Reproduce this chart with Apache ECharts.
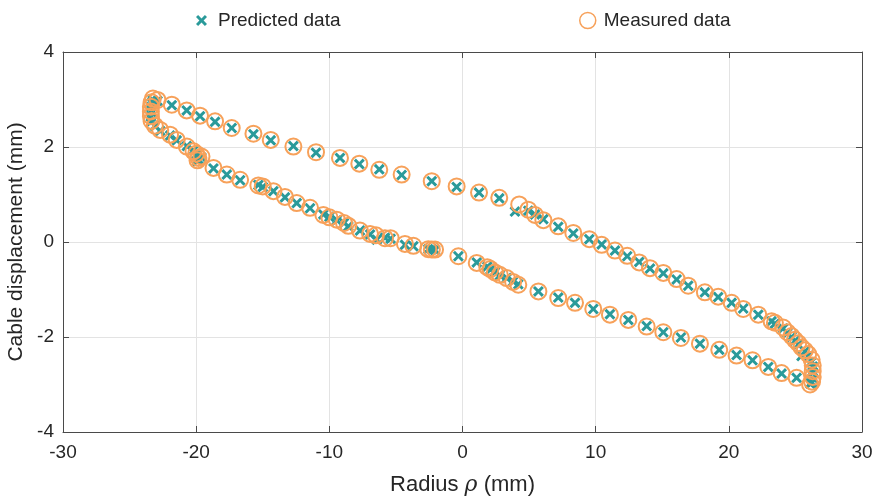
<!DOCTYPE html>
<html>
<head>
<meta charset="utf-8">
<script src="https://cdn.jsdelivr.net/npm/echarts@6/dist/echarts.min.js"></script>
<style>html,body{margin:0;padding:0;background:#fff}#c{width:880px;height:500px}</style>
</head>
<body>
<div id="c"></div>
<script>
// Measured data (radius mm, displacement mm)
var measuredX = [
  -23.25,-22.9,-21.83,-20.71,-19.71,-18.58,-17.33,-15.7,-14.4,-12.7,-11.0,-9.2,-7.75,-6.25,-4.57,-2.31,-0.44,1.24,2.76,4.26,4.94,5.44,6.07,7.19,8.32,9.52,10.45,11.45,12.37,13.27,14.08,15.08,16.08,16.95,18.2,19.2,20.21,21.08,22.21,23.21,23.46,24.08,24.4,24.71,24.96,25.21,25.46,25.71,25.96,26.22,26.3,26.3,26.3,26.25,26.1,
  25.09,23.96,22.96,21.78,20.58,19.28,17.83,16.4,15.08,13.83,12.45,11.07,9.82,8.45,7.19,5.7,4.19,3.8,3.32,2.8,2.44,2.1,1.86,1.07,-0.31,-2.06,-2.3,-2.57,-3.69,-4.32,-5.4,-5.82,-6.5,-6.94,-7.7,-8.57,-8.9,-9.44,-10.0,-10.45,-11.45,-12.45,-13.33,-14.2,-15.0,-15.33,-16.7,-17.7,-18.7,-19.6,-19.83,-19.9,-20.0,-20.2,-20.7,-21.46,-21.96,-22.7,-23.1,-23.35,-23.4,-23.4,-23.4,-23.35
];
var measuredY = [
  3.02,2.99,2.89,2.77,2.66,2.54,2.40,2.28,2.15,2.01,1.89,1.77,1.65,1.52,1.42,1.28,1.17,1.04,0.93,0.79,0.68,0.57,0.46,0.33,0.19,0.06,-0.06,-0.18,-0.29,-0.43,-0.55,-0.65,-0.78,-0.92,-1.06,-1.15,-1.28,-1.41,-1.53,-1.67,-1.70,-1.80,-1.90,-1.98,-2.06,-2.13,-2.22,-2.28,-2.36,-2.48,-2.60,-2.72,-2.84,-2.94,-3.00,
  -2.86,-2.76,-2.63,-2.49,-2.39,-2.27,-2.14,-2.02,-1.90,-1.78,-1.64,-1.53,-1.41,-1.28,-1.18,-1.04,-0.90,-0.84,-0.76,-0.69,-0.64,-0.57,-0.53,-0.44,-0.30,-0.16,-0.16,-0.15,-0.08,-0.04,0.08,0.08,0.14,0.17,0.24,0.34,0.40,0.47,0.52,0.57,0.72,0.82,0.95,1.07,1.17,1.19,1.31,1.42,1.56,1.80,1.77,1.72,1.86,1.91,2.01,2.15,2.26,2.36,2.45,2.55,2.65,2.75,2.85,2.94
];
// Predicted data
var predictedX = [
  -23.25,-22.9,-21.83,-20.71,-19.71,-18.58,-17.33,-15.7,-14.4,-12.7,-11.0,-9.2,-7.75,-6.25,-4.57,-2.31,-0.44,1.24,2.76,3.94,4.94,5.44,6.07,7.19,8.32,9.52,10.45,11.45,12.37,13.27,14.08,15.08,16.08,16.95,18.2,19.2,20.21,21.08,22.21,23.21,23.46,24.08,24.4,24.71,24.96,25.21,25.46,25.71,25.96,26.22,26.3,26.3,26.3,26.25,26.1,
  25.09,23.96,22.96,21.78,20.58,19.28,17.83,16.4,15.08,13.83,12.45,11.07,9.82,8.45,7.19,5.7,4.19,3.8,3.32,2.8,2.44,2.1,1.86,1.07,-0.31,-2.06,-2.3,-2.57,-3.69,-4.32,-5.4,-5.82,-6.44,-6.94,-7.7,-8.57,-8.9,-9.44,-10.0,-10.45,-11.45,-12.45,-13.33,-14.2,-15.0,-15.33,-16.7,-17.7,-18.7,-19.6,-19.83,-19.9,-20.0,-20.2,-20.7,-21.46,-21.96,-22.7,-23.1,-23.35,-23.4,-23.4,-23.4,-23.35
];
var predictedY = [
  2.98,2.97,2.88,2.77,2.65,2.53,2.40,2.27,2.14,2.02,1.88,1.77,1.64,1.53,1.41,1.28,1.16,1.04,0.92,0.64,0.66,0.58,0.48,0.32,0.18,0.06,-0.05,-0.18,-0.30,-0.42,-0.56,-0.66,-0.79,-0.92,-1.06,-1.16,-1.28,-1.40,-1.53,-1.67,-1.72,-1.82,-1.92,-2.00,-2.08,-2.16,-2.40,-2.30,-2.40,-2.52,-2.62,-2.74,-2.86,-2.96,-2.98,
  -2.86,-2.77,-2.63,-2.49,-2.38,-2.27,-2.14,-2.01,-1.90,-1.77,-1.64,-1.52,-1.41,-1.28,-1.17,-1.04,-0.89,-0.83,-0.76,-0.70,-0.63,-0.58,-0.52,-0.43,-0.30,-0.17,-0.15,-0.15,-0.09,-0.06,0.07,0.09,0.05,0.16,0.24,0.33,0.40,0.46,0.53,0.58,0.71,0.82,0.94,1.07,1.16,1.20,1.30,1.42,1.55,1.78,1.74,1.70,1.84,1.93,2.02,2.14,2.24,2.34,2.44,2.54,2.64,2.74,2.84,2.93
];
var xTicks = {min: -30, max: 30, interval: 10};
var yTicks = {min: -4, max: 4, interval: 2};

var TEAL = '#2a9a9a';
var ORANGE = '#f7a15a';
var CROSS = 'path://M1.9,0 L5,3.1 L8.1,0 L10,1.9 L6.9,5 L10,8.1 L8.1,10 L5,6.9 L1.9,10 L0,8.1 L3.1,5 L0,1.9 Z';

function pairs(xs, ys){ var o=[]; for(var i=0;i<xs.length;i++){o.push([xs[i], ys[i]]);} return o; }

var axisColor = '#4a4a4a';
var textColor = '#262626';
var FONT = 'Liberation Sans, Arial, sans-serif';

function xAx(pos, labels){
  return {
    type:'value', position: pos, min:xTicks.min, max:xTicks.max, interval:xTicks.interval,
    axisLine:{show:true, onZero:false, lineStyle:{color:axisColor, width:1}},
    axisTick:{show:true, inside:true, length:6, lineStyle:{color:axisColor}},
    axisLabel:{show:labels, color:textColor, fontSize:19, fontFamily:FONT, margin:11},
    splitLine:{show:labels, lineStyle:{color:'#e3e3e3', width:1}}
  };
}
function yAx(pos, labels){
  return {
    type:'value', position: pos, min:yTicks.min, max:yTicks.max, interval:yTicks.interval,
    axisLine:{show:true, onZero:false, lineStyle:{color:axisColor, width:1}},
    axisTick:{show:true, inside:true, length:6, lineStyle:{color:axisColor}},
    axisLabel:{show:labels, color:textColor, fontSize:19, fontFamily:FONT, margin:9},
    splitLine:{show:labels, lineStyle:{color:'#e3e3e3', width:1}}
  };
}

var xa0 = xAx('bottom', true);
xa0.name = 'Radius {i|ρ} (mm)';
xa0.nameLocation = 'middle';
xa0.nameGap = 42;
xa0.nameTextStyle = {color:textColor, fontSize:22, fontFamily:FONT,
  rich:{i:{fontStyle:'italic', fontSize:22, fontFamily:'DejaVu Serif, serif', color:textColor}}};
var ya0 = yAx('left', true);
ya0.name = 'Cable displacement (mm)';
ya0.nameLocation = 'middle';
ya0.nameGap = 30;
ya0.nameTextStyle = {color:textColor, fontSize:21, fontFamily:FONT};

var chart = echarts.init(document.getElementById('c'), null, {renderer:'canvas'});
chart.setOption({
  animation:false,
  backgroundColor:'#fff',
  grid:{left:63, right:18, top:52, bottom:68, containLabel:false, outerBoundsMode:'none'},
  legend:[
    {data:['Predicted data'], left:191, top:6, icon:CROSS, itemWidth:11, itemHeight:11,
     textStyle:{color:textColor, fontSize:19, fontFamily:FONT, padding:[0,0,0,6]},
     itemStyle:{color:TEAL, borderWidth:0}},
    {data:['Measured data'], left:574, top:6, icon:'circle', itemWidth:16, itemHeight:16,
     textStyle:{color:textColor, fontSize:19, fontFamily:FONT, padding:[0,0,0,3]},
     itemStyle:{color:'rgba(0,0,0,0)', borderColor:ORANGE, borderWidth:1.5}}
  ],
  xAxis:[xa0, xAx('top', false)],
  yAxis:[ya0, yAx('right', false)],
  series:[
    {name:'Predicted data', type:'scatter', xAxisIndex:0, yAxisIndex:0,
     symbol:CROSS, symbolSize:11,
     itemStyle:{color:TEAL, opacity:1},
     data:pairs(predictedX, predictedY), z:2},
    {name:'Measured data', type:'scatter', xAxisIndex:0, yAxisIndex:0,
     symbol:'circle', symbolSize:16,
     itemStyle:{color:'rgba(0,0,0,0)', borderColor:ORANGE, borderWidth:2, opacity:1},
     data:pairs(measuredX, measuredY), z:3}
  ]
});
</script>
</body>
</html>
